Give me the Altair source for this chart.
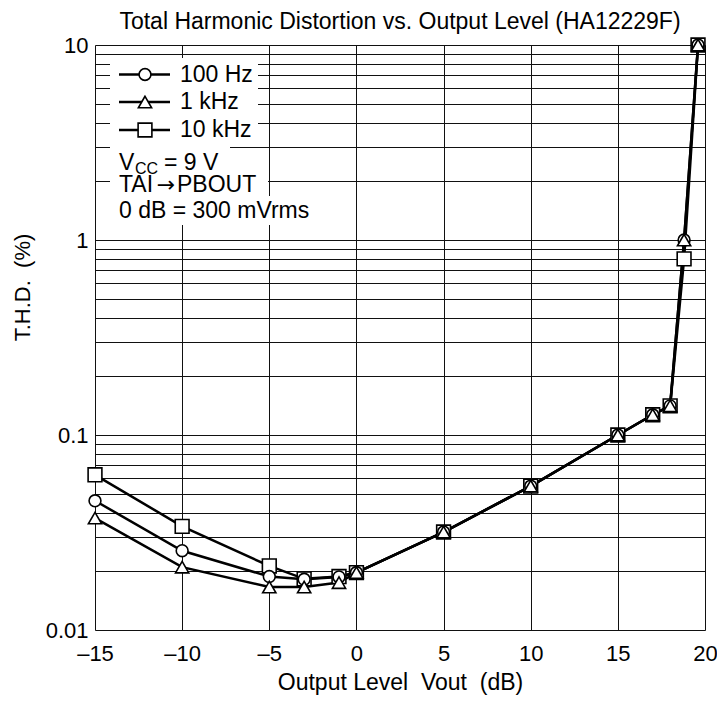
import altair as alt
import pandas as pd

# ---- data ----
series = ["100 Hz", "1 kHz", "10 kHz"]
shapes = ["circle", "triangle-up", "square"]
x_db = [-15, -10, -5, -3, -1, 0, 5, 10, 15, 17, 18, 18.8, 19.6]
thd_100hz = [0.046, 0.0255, 0.0188, 0.0182, 0.0187, 0.0197, 0.0318, 0.0547, 0.100, 0.127, 0.141, 1.0, 10.0]
thd_1khz = [0.0375, 0.021, 0.0166, 0.0166, 0.0175, 0.0197, 0.0318, 0.0547, 0.100, 0.127, 0.141, 1.0, 10.0]
thd_10khz = [0.0625, 0.034, 0.0213, 0.0183, 0.0188, 0.0197, 0.0318, 0.0547, 0.100, 0.127, 0.141, 0.80, 10.0]
x_ticks = [-15, -10, -5, 0, 5, 10, 15, 20]
y_ticks = [0.01, 0.02, 0.03, 0.04, 0.05, 0.06, 0.07, 0.08, 0.09,
           0.1, 0.2, 0.3, 0.4, 0.5, 0.6, 0.7, 0.8, 0.9,
           1, 2, 3, 4, 5, 6, 7, 8, 9, 10]
title_text = "Total Harmonic Distortion vs. Output Level (HA12229F)"
x_title = "Output Level\u00a0 Vout\u00a0 (dB)"
y_title = "T.H.D.\u00a0 (%)"

rows = []
for name, vals in zip(series, [thd_100hz, thd_1khz, thd_10khz]):
    for xv, yv in zip(x_db, vals):
        rows.append({"series": name, "vout": xv, "thd": yv})
df = pd.DataFrame(rows)

FONT = "Liberation Sans"

x_enc = alt.X("vout:Q",
              scale=alt.Scale(domain=[-15, 20], nice=False, zero=False),
              axis=alt.Axis(values=x_ticks, title=x_title, grid=True,
                            gridColor="#111", gridWidth=1, gridOpacity=1,
                            domain=False, ticks=False, labelPadding=13,
                            labelFlush=False, labelOverlap=False,
                            labelFontSize=22, titleFontSize=23,
                            titleFontWeight="normal", titlePadding=7,
                            labelColor="black", titleColor="black",
                            labelFont=FONT, titleFont=FONT,
                            labelExpr="datum.value < 0 ? '\u2013' + abs(datum.value) : datum.label"))
y_enc = alt.Y("thd:Q",
              scale=alt.Scale(type="log", domain=[0.01, 10], nice=False),
              axis=alt.Axis(values=y_ticks, title=y_title, grid=True,
                            gridColor="#111", gridWidth=1, gridOpacity=1,
                            domain=False, ticks=False, labelPadding=7,
                            labelFlush=False, labelOverlap=False,
                            format="~g",
                            labelFontSize=22, titleFontSize=22,
                            titleFontWeight="normal",
                            titleX=-73, titleY=242, titleAngle=-90,
                            titleAlign="center", titleBaseline="middle",
                            labelColor="black", titleColor="black",
                            labelFont=FONT, titleFont=FONT,
                            labelExpr="(datum.value == 0.01 || datum.value == 0.1 || datum.value == 1 || datum.value == 10) ? datum.label : ''"))

base = alt.Chart(df)

lines = base.mark_line(color="black", strokeWidth=2.5).encode(
    x=x_enc, y=y_enc, detail="series:N", order="vout:Q")

def pts(name, shape, size):
    return base.transform_filter(alt.datum.series == name).mark_point(
        shape=shape, filled=True, fill="white", stroke="black",
        strokeWidth=1.6, size=size, opacity=1).encode(x="vout:Q", y="thd:Q")

p_sq = pts("10 kHz", "square", 190)
p_ci = pts("100 Hz", "circle", 140)
p_tr = pts("1 kHz", "triangle-up", 175)

# ---- legend block (drawn inside plot) ----
one = pd.DataFrame({"k": [0]})
leg = alt.Chart(one)

def wbox(x1, x2, y1, y2):
    return leg.mark_rect(color="white").encode(
        x=alt.value(x1), x2=alt.value(x2), y=alt.value(y1), y2=alt.value(y2))

boxes = [wbox(15, 163, 13, 95), wbox(15, 135, 95, 125),
         wbox(15, 173, 125, 151), wbox(15, 222, 151, 180)]

legend_layers = []
row_mid = [29.5, 57, 85]
row_base = [37, 64, 92]
leg_sizes = [140, 175, 190]
for name, shape, ym, yb, sz in zip(series, shapes, row_mid, row_base, leg_sizes):
    legend_layers.append(leg.mark_rule(color="black", strokeWidth=2.5).encode(
        x=alt.value(24), x2=alt.value(75), y=alt.value(ym)))
    legend_layers.append(leg.mark_point(shape=shape, filled=True, fill="white",
                                        stroke="black", strokeWidth=1.6,
                                        size=sz, opacity=1).encode(
        x=alt.value(50), y=alt.value(ym)))
    legend_layers.append(leg.mark_text(text=name, align="left", baseline="alphabetic",
                                       fontSize=23, font=FONT, color="black").encode(
        x=alt.value(85), y=alt.value(yb)))

def txt(t, x, y, size=23, font=FONT, align="left"):
    return leg.mark_text(text=t, align=align, baseline="alphabetic",
                         fontSize=size, font=font, color="black").encode(
        x=alt.value(x), y=alt.value(y))

legend_layers += [
    txt("V", 24, 125),
    txt("CC", 40, 129, 16),
    txt("= 9 V", 69, 125),
    txt("TAI", 24, 147),
    txt("\u2192", 71, 147, 22, "DejaVu Sans", "center"),
    txt("PBOUT", 82, 147),
    txt("0 dB = 300 mVrms", 24, 173),
]

chart = alt.layer(lines, p_sq, p_ci, p_tr, *boxes, *legend_layers).properties(
    width=610, height=585,
    title=alt.TitleParams(title_text, fontSize=23, font=FONT, fontWeight="normal",
                          color="black", anchor="middle", offset=0),
    autosize=alt.AutoSizeParams(type="none"),
    padding={"left": 87, "top": 37, "right": 12, "bottom": 66},
).configure_view(stroke="black", strokeWidth=2).configure(background="white")

chart.save("out.html", embed_options={"renderer": "svg", "actions": False})
